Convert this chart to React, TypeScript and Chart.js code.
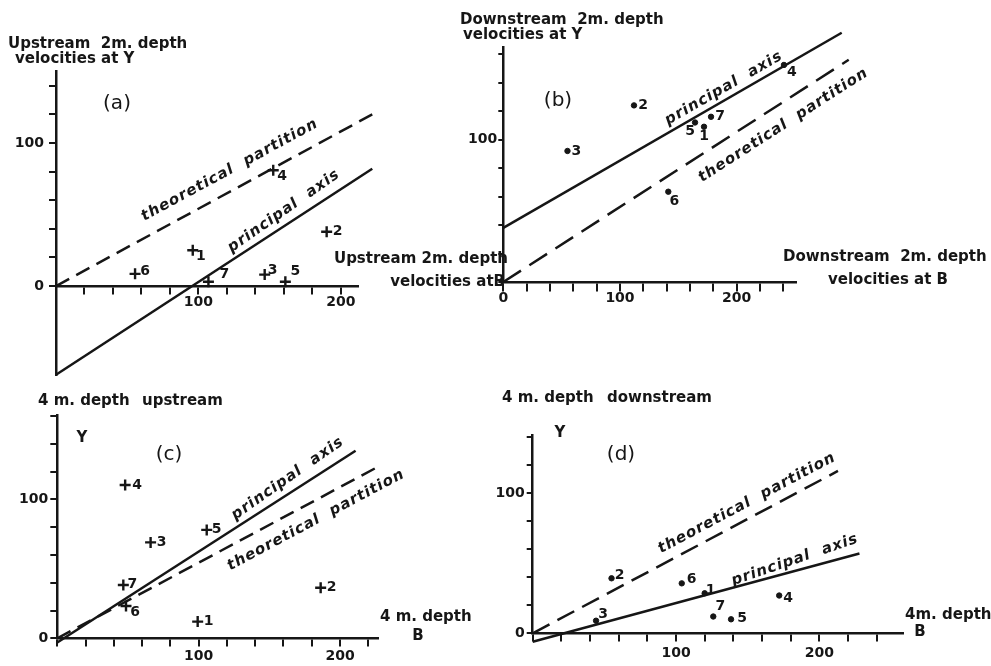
import React, { useEffect, useRef } from "react";
import { Chart, registerables } from "chart.js";

Chart.register(...registerables);

// ---------------- data ----------------
const stationIds = ["1", "2", "3", "4", "5", "6", "7"];

// (a) upstream, 2 m depth: velocities at B (x) and at Y (y)
const upstream2mB = [96, 190, 146.5, 152.5, 161, 55.5, 107];
const upstream2mY = [25, 38, 8, 81, 3, 8.5, 3];
const upstream2mPrincipalB = [0, 222];
const upstream2mPrincipalY = [-62, 82];
const upstream2mPartitionB = [0, 222];
const upstream2mPartitionY = [0, 120];

// (b) downstream, 2 m depth
const downstream2mB = [172, 112, 55, 240.5, 164.3, 141.4, 178];
const downstream2mY = [109, 124, 92, 152.4, 112, 63.4, 116];
const downstream2mPrincipalB = [0, 290];
const downstream2mPrincipalY = [38, 175];
const downstream2mPartitionB = [0, 296];
const downstream2mPartitionY = [0, 156];

// (c) upstream, 4 m depth
const upstream4mB = [99.3, 186.3, 66, 48, 105.7, 48.6, 46.7];
const upstream4mY = [12, 36.4, 69, 110.3, 78, 23.2, 38.3];
const upstream4mPrincipalB = [0, 211];
const upstream4mPrincipalY = [-3, 135];
const upstream4mPartitionB = [0, 227];
const upstream4mPartitionY = [0, 123.5];

// (d) downstream, 4 m depth
const downstream4mB = [120, 55, 44.2, 172, 138.4, 104, 126];
const downstream4mY = [28.6, 39.3, 9, 27, 10, 35.7, 12];
const downstream4mPrincipalB = [0, 228];
const downstream4mPrincipalY = [-6, 57];
const downstream4mPartitionB = [0, 213];
const downstream4mPartitionY = [0, 116];

// axis ranges
const rangeA = [0, 212, -62, 150];
const rangeB = [0, 251, 0, 165];
const rangeC = [0, 227, 0, 160.6];
const rangeD = [0, 258.6, 0, 141.7];

// tick labels
const tickStep = 20;
const xTickLabelsA = [100, 200];
const yTickLabelsA = [0, 100];
const xTickLabelsB = [0, 100, 200];
const yTickLabelsB = [100];
const xTickLabelsC = [100, 200];
const yTickLabelsC = [0, 100];
const xTickLabelsD = [100, 200];
const yTickLabelsD = [0, 100];

// ---------------- styles ----------------
const W = 991;
const H = 666;
const Y_AXIS_BOX = 50;
const INK = "#161616";
const AXIS_FONT = 'bold 15px "DejaVu Sans"';
const PANEL_FONT = '20px "DejaVu Sans"';
const HAND_FONT = 'italic bold 15px "DejaVu Sans"';
const DIGIT_FONT = 'bold 14px "DejaVu Sans"';
const TICK_FONT = { family: "DejaVu Sans", size: 14, weight: "bold" };

type Txt = { text: string; x: number; y: number; align?: CanvasTextAlign; font?: string };
type LineLbl = { text: string; x: number; y: number; ds: number; rot?: number };

type Panel = {
  b: number[]; y: number[];
  pb: number[]; py: number[];
  tb: number[]; ty: number[];
  range: number[];
  xLabels: number[]; yLabels: number[];
  marker: "cross" | "circle";
  area: { left: number; right: number; top: number; bottom: number };
  dash: number[];
  xTick: [number, number]; yTick: [number, number];
  offsets: number[][];
  lineLabels: LineLbl[];
  texts: Txt[];
};

const panels: Panel[] = [
  {
    b: upstream2mB, y: upstream2mY,
    pb: upstream2mPrincipalB, py: upstream2mPrincipalY,
    tb: upstream2mPartitionB, ty: upstream2mPartitionY,
    range: rangeA, xLabels: xTickLabelsA, yLabels: yTickLabelsA,
    marker: "cross",
    area: { left: 56, right: 358, top: 71.5, bottom: 374.7 },
    dash: [15, 8],
    xTick: [7, 1], yTick: [7, 5],
    offsets: [[8, 6], [11, 0], [8, -4], [9, 6], [10, -10], [10, -3], [16, -7]],
    lineLabels: [
      { text: "theoretical  partition", x: 122, y: 81, ds: 2 },
      { text: "principal  axis", x: 160, y: 52.4, ds: 1, rot: 35 },
    ],
    texts: [
      { text: "Upstream  2m. depth", x: 8, y: 44 },
      { text: "velocities at Y", x: 15, y: 59 },
      { text: "(a)", x: 117, y: 104, align: "center", font: PANEL_FONT },
      { text: "Upstream 2m. depth", x: 508, y: 259, align: "right" },
      { text: "velocities atB", x: 505, y: 282, align: "right" },
    ],
  },
  {
    b: downstream2mB, y: downstream2mY,
    pb: downstream2mPrincipalB, py: downstream2mPrincipalY,
    tb: downstream2mPartitionB, ty: downstream2mPartitionY,
    range: rangeB, xLabels: xTickLabelsB, yLabels: yTickLabelsB,
    marker: "circle",
    area: { left: 503.3, right: 796.2, top: 47, bottom: 282 },
    dash: [21, 10],
    xTick: [8, 0], yTick: [5, 1],
    offsets: [[0, 10], [9, 0], [9, 0], [8, 7], [-5, 9], [6, 10], [9, 0]],
    lineLabels: [
      { text: "principal  axis", x: 189, y: 136, ds: 1 },
      { text: "theoretical  partition", x: 240, y: 110, ds: 2 },
    ],
    texts: [
      { text: "Downstream  2m. depth", x: 460, y: 20 },
      { text: "velocities at Y", x: 463, y: 35 },
      { text: "(b)", x: 558, y: 101, align: "center", font: PANEL_FONT },
      { text: "Downstream  2m. depth", x: 783, y: 257 },
      { text: "velocities at B", x: 828, y: 280 },
    ],
  },
  {
    b: upstream4mB, y: upstream4mY,
    pb: upstream4mPrincipalB, py: upstream4mPrincipalY,
    tb: upstream4mPartitionB, ty: upstream4mPartitionY,
    range: rangeC, xLabels: xTickLabelsC, yLabels: yTickLabelsC,
    marker: "cross",
    area: { left: 57.3, right: 378.2, top: 415.1, bottom: 638.3 },
    dash: [15, 8],
    xTick: [7, 3], yTick: [7, 2],
    offsets: [[11, 0], [11, 0], [11, 0], [12, 0], [10, -1], [9, 6], [9, -1]],
    lineLabels: [
      { text: "principal  axis", x: 163, y: 115, ds: 1, rot: 35 },
      { text: "theoretical  partition", x: 183, y: 85, ds: 2 },
    ],
    texts: [
      { text: "4 m. depth", x: 38, y: 401 },
      { text: "upstream", x: 142, y: 401 },
      { text: "Y", x: 82, y: 438, align: "center" },
      { text: "(c)", x: 169, y: 455, align: "center", font: PANEL_FONT },
      { text: "4 m. depth", x: 380, y: 617 },
      { text: "B", x: 418, y: 636, align: "center" },
    ],
  },
  {
    b: downstream4mB, y: downstream4mY,
    pb: downstream4mPrincipalB, py: downstream4mPrincipalY,
    tb: downstream4mPartitionB, ty: downstream4mPartitionY,
    range: rangeD, xLabels: xTickLabelsD, yLabels: yTickLabelsD,
    marker: "circle",
    area: { left: 532.7, right: 903.3, top: 435, bottom: 633.3 },
    dash: [19, 9],
    xTick: [7, 4.5], yTick: [6, 2],
    offsets: [[6, -3], [8, -3], [7, -6], [9, 3], [11, -1], [10, -4], [7, -10]],
    lineLabels: [
      { text: "theoretical  partition", x: 149.5, y: 93, ds: 2 },
      { text: "principal  axis", x: 183, y: 52.4, ds: 1, rot: 19 },
    ],
    texts: [
      { text: "4 m. depth", x: 502, y: 398 },
      { text: "downstream", x: 607, y: 398 },
      { text: "Y", x: 560, y: 433, align: "center" },
      { text: "(d)", x: 621, y: 455, align: "center", font: PANEL_FONT },
      { text: "4m. depth", x: 905, y: 615 },
      { text: "B", x: 920, y: 632, align: "center" },
    ],
  },
];

function pairs(xs: number[], ys: number[]) {
  return xs.map((x, i) => ({ x, y: ys[i] }));
}

function textPlugin(p: Panel) {
  return {
    id: "panelTexts",
    afterDraw(chart: any) {
      const ctx: CanvasRenderingContext2D = chart.ctx;
      const sx = chart.scales.x;
      const sy = chart.scales.y;
      ctx.save();
      ctx.fillStyle = INK;
      ctx.textBaseline = "middle";
      // point ids
      ctx.font = DIGIT_FONT;
      ctx.textAlign = "center";
      const meta = chart.getDatasetMeta(0);
      meta.data.forEach((el: any, i: number) => {
        const o = p.offsets[i] || [10, 0];
        ctx.fillText(stationIds[i], el.x + o[0], el.y + o[1]);
      });
      // line names, written along the lines
      ctx.font = HAND_FONT;
      (ctx as any).letterSpacing = "1px";
      for (const l of p.lineLabels) {
        const m = chart.getDatasetMeta(l.ds);
        const a = m.data[0];
        const b = m.data[m.data.length - 1];
        const ang = l.rot !== undefined ? (-l.rot * Math.PI) / 180 : Math.atan2(b.y - a.y, b.x - a.x);
        ctx.save();
        ctx.translate(sx.getPixelForValue(l.x), sy.getPixelForValue(l.y));
        ctx.rotate(ang);
        ctx.fillText(l.text, 0, 0);
        ctx.restore();
      }
      (ctx as any).letterSpacing = "0px";
      for (const t of p.texts) {
        ctx.font = t.font || AXIS_FONT;
        ctx.textAlign = t.align || "left";
        ctx.fillText(t.text, t.x, t.y);
      }
      ctx.restore();
    },
  };
}

function buildChart(canvas: HTMLCanvasElement, p: Panel) {
  const [xMin, xMax, yMin, yMax] = p.range;
  const keepTicks = (s: any) => {
    s.ticks = s.ticks.filter((t: any) => t.value >= 0 && Math.abs(t.value % tickStep) < 1e-6);
  };
  const lbl = (list: number[]) => (v: any) => (list.includes(Math.round(Number(v))) ? String(Math.round(Number(v))) : "");
  const lineDs = (xs: number[], ys: number[], dash: number[]) => ({
    data: pairs(xs, ys),
    showLine: true,
    borderColor: INK,
    borderWidth: 2.5,
    borderDash: dash,
    pointRadius: 0,
    clip: false as any,
  });
  return new Chart(canvas, {
    type: "scatter",
    data: {
      datasets: [
        {
          data: pairs(p.b, p.y),
          pointStyle: p.marker,
          pointRadius: p.marker === "cross" ? 5.5 : 2.7,
          pointBorderWidth: p.marker === "cross" ? 2.4 : 1,
          borderColor: INK,
          backgroundColor: INK,
          showLine: false,
          clip: false as any,
        },
        lineDs(p.pb, p.py, []),
        lineDs(p.tb, p.ty, p.dash),
      ],
    },
    options: {
      animation: false,
      responsive: false,
      events: [],
      layout: {
        padding: {
          left: p.area.left - Y_AXIS_BOX,
          right: W - p.area.right,
          top: p.area.top,
          bottom: H - p.area.bottom,
        },
      },
      plugins: { legend: { display: false }, tooltip: { enabled: false } },
      scales: {
        x: {
          type: "linear",
          min: xMin,
          max: xMax,
          position: { y: 0 } as any,
          afterFit: (s: any) => { s.height = 0; },
          afterBuildTicks: keepTicks,
          grid: { display: true, drawOnChartArea: false, drawTicks: true, tickLength: p.xTick[0], color: INK, lineWidth: 2 },
          border: { display: true, color: INK, width: 2.5 },
          ticks: { stepSize: tickStep, includeBounds: false, autoSkip: false, maxRotation: 0, padding: p.xTick[1], color: INK, font: TICK_FONT, callback: lbl(p.xLabels) },
        },
        y: {
          type: "linear",
          min: yMin,
          max: yMax,
          position: "left",
          afterFit: (s: any) => { s.width = Y_AXIS_BOX; },
          afterBuildTicks: keepTicks,
          grid: { display: true, drawOnChartArea: false, drawTicks: true, tickLength: p.yTick[0], color: INK, lineWidth: 2 },
          border: { display: true, color: INK, width: 2.5 },
          ticks: { stepSize: tickStep, includeBounds: false, autoSkip: false, padding: p.yTick[1], color: INK, font: TICK_FONT, callback: lbl(p.yLabels) },
        },
      },
    },
    plugins: [textPlugin(p)],
  } as any);
}

export default function App() {
  const refs = useRef<(HTMLCanvasElement | null)[]>([]);
  useEffect(() => {
    const charts = panels.map((p, i) => buildChart(refs.current[i] as HTMLCanvasElement, p));
    return () => charts.forEach((c) => c.destroy());
  }, []);
  return (
    <div style={{ position: "absolute", left: 0, top: 0, width: W, height: H, background: "#fff", overflow: "hidden" }}>
      {panels.map((_, i) => (
        <canvas
          key={i}
          ref={(el) => { refs.current[i] = el; }}
          width={W}
          height={H}
          style={{ position: "absolute", left: 0, top: 0, width: W, height: H }}
        />
      ))}
    </div>
  );
}
